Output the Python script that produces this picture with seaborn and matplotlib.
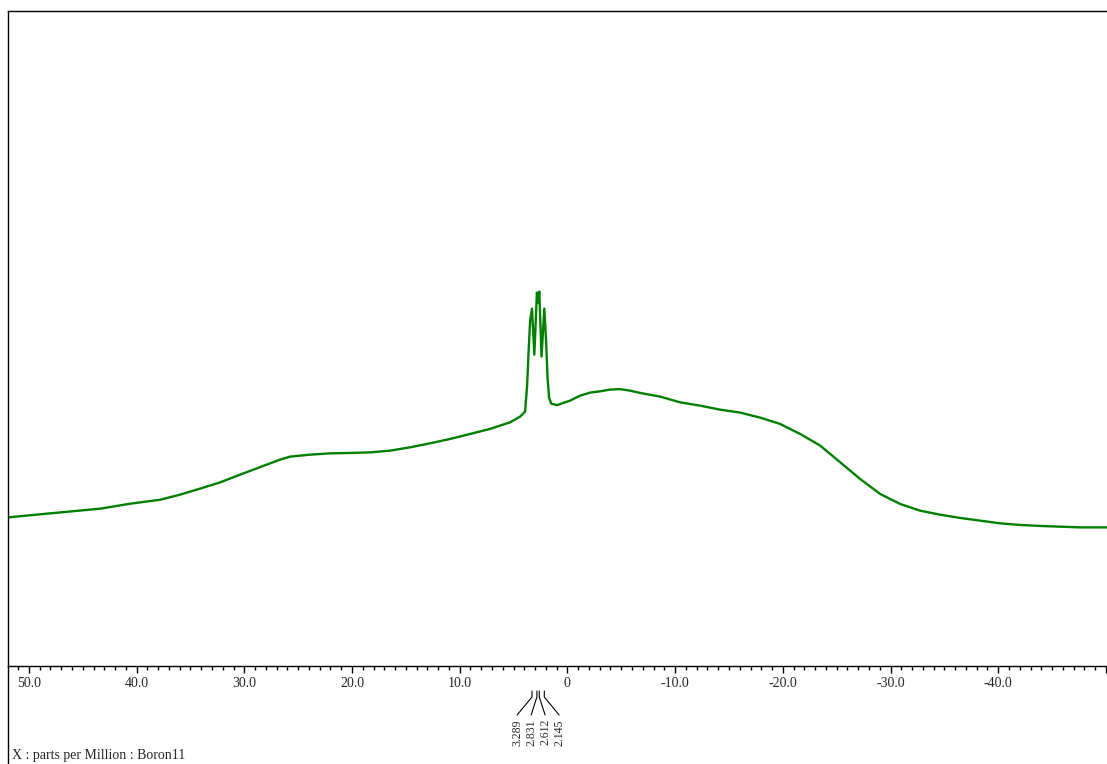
import numpy as np
import pandas as pd
import seaborn as sns
import matplotlib
matplotlib.use("Agg")
import matplotlib.pyplot as plt
from matplotlib.lines import Line2D
from matplotlib.ticker import MultipleLocator, FuncFormatter
import matplotlib.transforms as mtransforms

# 11B NMR spectrum: chemical shift (ppm) and intensity (arbitrary units)
shift_ppm = [
    51.94, 48.04, 43.36, 40.57, 37.78, 35.96, 34.12, 32.25, 30.39, 28.53,
    26.68, 25.75, 23.89, 22.03, 20.18, 18.32, 16.46, 14.61, 12.75, 10.89,
    9.03, 7.18, 5.32, 4.39, 3.93, 3.74, 3.60, 3.46, 3.289, 3.07,
    2.831, 2.72, 2.612, 2.40, 2.145, 1.98, 1.84, 1.70, 1.51, 0.96,
    -0.25, -1.18, -2.11, -3.04, -3.96, -4.89, -5.82, -6.75, -8.61, -10.46,
    -12.32, -14.18, -16.04, -17.90, -19.75, -21.61, -23.47, -25.33, -27.18, -29.04,
    -30.89, -32.75, -34.61, -36.47, -38.32, -40.18, -42.04, -43.90, -45.75, -47.61,
    -50.10,
]
intensity = [
    22.64, 23.25, 23.97, 24.73, 25.34, 26.11, 27.02, 27.98, 29.16, 30.31,
    31.45, 31.91, 32.21, 32.41, 32.47, 32.56, 32.82, 33.33, 33.94, 34.61,
    35.37, 36.14, 37.15, 38.02, 38.78, 42.75, 48.09, 52.67, 54.50, 47.48,
    56.95, 55.40, 57.10, 47.18, 54.50, 49.60, 43.80, 40.90, 40.00, 39.77,
    40.46, 41.22, 41.68, 41.88, 42.14, 42.21, 41.98, 41.63, 41.07, 40.20,
    39.69, 39.08, 38.63, 37.86, 36.90, 35.37, 33.59, 31.04, 28.50, 26.21,
    24.69, 23.66, 23.05, 22.55, 22.14, 21.73, 21.48, 21.33, 21.22, 21.11,
    21.11,
]

# Picked peak positions (ppm)
peak_labels = ["3.289", "2.831", "2.612", "2.145"]
peak_ppm = [3.289, 2.831, 2.612, 2.145]

x_label = "X : parts per Million : Boron11"

sns.set_style("white")
plt.rcParams["font.family"] = ["Liberation Serif", "DejaVu Serif"]
plt.rcParams["axes.unicode_minus"] = False

W, H = 1107, 764
fig = plt.figure(figsize=(W / 100, H / 100), dpi=100)
ax_left, ax_right = 8 / W, 1.0
ax_bottom, ax_top = (H - 665.7) / H, (H - 10.5) / H
ax = fig.add_axes([ax_left, ax_bottom, ax_right - ax_left, ax_top - ax_bottom])

df = pd.DataFrame({"ppm": shift_ppm, "intensity": intensity})
sns.lineplot(data=df, x="ppm", y="intensity", ax=ax, color="#008000",
             linewidth=1.7, estimator=None, sort=False)

ax.set_xlim(51.94, -50.10)
ax.set_ylim(0, 100)
ax.set_xlabel("")
ax.set_ylabel("")
ax.set_yticks([])

for side in ("top", "left", "bottom"):
    ax.spines[side].set_visible(True)
    ax.spines[side].set_color("black")
    ax.spines[side].set_linewidth(1.0)
ax.spines["right"].set_visible(False)

ax.xaxis.set_major_locator(MultipleLocator(10))
ax.xaxis.set_minor_locator(MultipleLocator(1))


def fmt(v, pos):
    # the end tick at the right edge carries no label
    if v < -45:
        return ""
    if abs(v) < 1e-9:
        return "0"
    return f"{v:.1f}"


ax.xaxis.set_major_formatter(FuncFormatter(fmt))
ax.tick_params(axis="x", which="major", direction="out", length=5, width=1,
               color="black", labelsize=10, pad=3, bottom=True)
ax.tick_params(axis="x", which="minor", direction="out", length=3, width=1,
               color="black", bottom=True)

# left frame line continues to the bottom of the figure
fig.add_artist(Line2D([ax_left, ax_left], [0, ax_bottom], transform=fig.transFigure,
                      color="black", linewidth=1.0))

# peak pick annotations below the axis
trans = mtransforms.blended_transform_factory(ax.transData, fig.dpi_scale_trans)
center = float(np.mean(peak_ppm))
spacing = 1.3
n = len(peak_ppm)
y_top, y_knee, y_end, y_text = (H - 691) / 100, (H - 697) / 100, (H - 715) / 100, (H - 719) / 100
for i, (lab, p) in enumerate(zip(peak_labels, peak_ppm)):
    lx = center + (n - 1) / 2 * spacing - i * spacing
    ax.add_line(Line2D([p, p, lx], [y_top, y_knee, y_end], transform=trans,
                       color="black", linewidth=0.8, clip_on=False))
    ax.text(lx, y_text, lab, transform=trans, rotation=90, ha="center", va="top",
            fontsize=8.5, clip_on=False)

fig.text(12 / W, 1 - 759 / H, x_label, ha="left", va="baseline", fontsize=10)

fig.savefig("out.png", dpi=100)
